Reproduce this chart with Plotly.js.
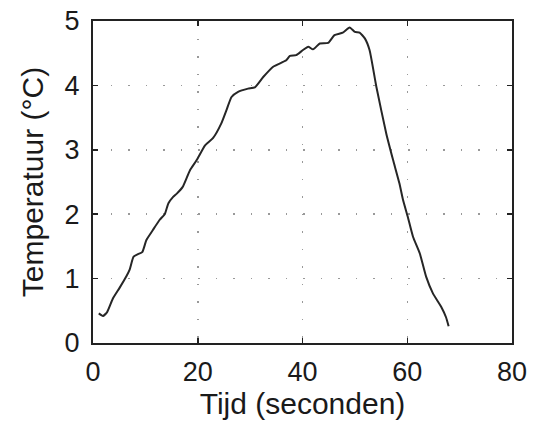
<!DOCTYPE html>
<html>
<head>
<meta charset="utf-8">
<script src="https://cdn.plot.ly/plotly-3.0.1.min.js"></script>
<style>html,body{margin:0;padding:0;background:#fff;}#chart{width:539px;height:423px;}</style>
</head>
<body>
<div id="chart"></div>
<script>
// Time (s)
const tijd = [1.1, 1.9, 2.7, 3.8, 5.1, 6.4, 7.0, 7.75, 8.6, 9.4, 10.2, 11.4, 12.7, 13.7, 14.4, 15.3, 16.0, 17.1, 18.5, 19.8, 21.4, 22.9, 24.5, 25.5, 26.45, 27.7, 29.6, 30.9, 32.5, 34.4, 36.9, 37.6, 38.8, 40.1, 41.1, 42.0, 43.3, 44.9, 46.1, 47.7, 49.0, 50.0, 50.9, 51.9, 52.8, 54.1, 56.0, 57.3, 58.5, 59.2, 60.1, 61.1, 62.4, 63.6, 64.9, 66.5, 67.4, 67.9];
// Temperature (°C)
const temperatuur = [0.46, 0.42, 0.48, 0.69, 0.86, 1.04, 1.14, 1.34, 1.38, 1.41, 1.60, 1.75, 1.91, 2.0, 2.17, 2.27, 2.32, 2.42, 2.68, 2.84, 3.07, 3.18, 3.41, 3.62, 3.82, 3.90, 3.95, 3.97, 4.13, 4.29, 4.39, 4.46, 4.47, 4.55, 4.60, 4.56, 4.65, 4.66, 4.78, 4.82, 4.90, 4.83, 4.82, 4.73, 4.55, 3.98, 3.25, 2.84, 2.48, 2.22, 1.96, 1.65, 1.39, 1.03, 0.77, 0.56, 0.40, 0.26];
const xTicks = [0, 20, 40, 60, 80];
const yTicks = [0, 1, 2, 3, 4, 5];

const FONT = 'Liberation Sans, Arial, sans-serif';
const axisCommon = {
  showline: true, linecolor: '#222', linewidth: 2, mirror: 'ticks',
  ticks: 'inside', ticklen: 5, tickwidth: 1.5, tickcolor: '#222',
  showgrid: true, gridcolor: '#999', gridwidth: 1.5, griddash: '1.5px,16px',
  zeroline: false,
  tickfont: {family: FONT, size: 27, color: '#1a1a1a'}
};

Plotly.newPlot('chart', [{
  x: tijd, y: temperatuur, type: 'scatter', mode: 'lines',
  line: {color: '#262626', width: 2, shape: 'spline', smoothing: 0.5},
  hoverinfo: 'none'
}], {
  width: 539, height: 423,
  margin: {l: 93, r: 27, t: 21, b: 80},
  paper_bgcolor: '#fff', plot_bgcolor: '#fff',
  showlegend: false,
  xaxis: Object.assign({}, axisCommon, {
    range: [0, 80], tickvals: xTicks, ticktext: xTicks.map(String),
    ticklabelstandoff: 4,
    title: {text: 'Tijd (seconden)', font: {family: FONT, size: 30, color: '#1a1a1a'}, standoff: 0}
  }),
  yaxis: Object.assign({}, axisCommon, {
    range: [0, 5], tickvals: yTicks, ticktext: yTicks.map(String),
    ticklabelstandoff: 6,
    title: {text: 'Temperatuur (°C)', font: {family: FONT, size: 30, color: '#1a1a1a'}, standoff: 12}
  })
}, {staticPlot: true});
</script>
</body>
</html>
